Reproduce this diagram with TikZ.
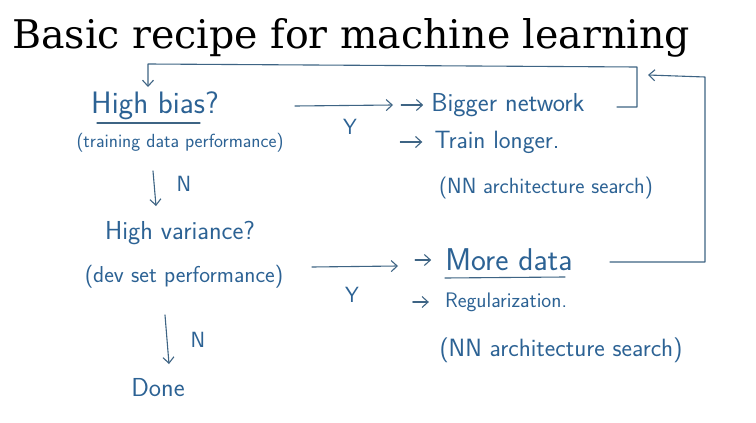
\documentclass[tikz,border=0pt]{standalone}
\usepackage{fontspec}
\usepackage{xcolor}
\usepackage{tikz}
\usetikzlibrary{arrows.meta}

\newfontfamily\titlefont{DejaVu Serif}
\definecolor{pen}{RGB}{44,98,148}
\definecolor{penline}{RGB}{62,100,132}

\tikzset{
	hand/.style={text=pen, font=\sffamily\fontsize{#1}{#1}\selectfont, inner sep=0pt},
	hand/.default=19,
	link/.style={draw=penline, line width=1.1pt, line cap=round, line join=round},
}

\begin{document}
\begin{tikzpicture}[x=1pt, y=-1pt, >={Straight Barb[length=6pt,width=11pt]}]
			\useasboundingbox[fill=white] (0,0) rectangle (756,423);
			\node[anchor=base west, inner sep=0pt, font=\titlefont\fontsize{39.5}{44}\selectfont] (title) at (12,48) {Basic recipe for machine learning};
			% left column
			\node[hand=31] (hb) at (155,106) {High bias?};
			\node[hand] (hbq) at (180,143) {(training data performance)};
			\node[hand=22] (n1) at (184,184) {N};
			\node[hand=26] (hv) at (180,233) {High variance?};
			\node[hand=23] (hvq) at (184,277) {(dev set performance)};
			\node[hand=22] (n2) at (198,340) {N};
			\node[hand=26] (done) at (158,388) {Done};
			% right column
			\node[hand=22] (y1) at (350,127) {Y};
			\node[hand=26] (bn) at (508,105) {Bigger network};
			\node[hand=25] (tl) at (497,142) {Train longer.};
			\node[hand=22] (ns1) at (546,188) {(NN architecture search)};
			\node[hand=22] (y2) at (352,295) {Y};
			\node[hand=31.5] (md) at (509,260) {More data};
			\node[hand=21] (rg) at (506,302) {Regularization.};
			\node[hand=25] (ns2) at (561,350) {(NN architecture search)};
			% arrows
			\coordinate (yb1) at (295,106);
			\coordinate (ye1) at (393,105);
			\coordinate (yb2) at (312,267);
			\coordinate (ye2) at (398,266);
			\draw[link,->] (yb1) -- (ye1);
			\draw[link,->] (yb2) -- (ye2);
			\draw[link,->] (153,171) -- (156,206);
			\draw[link,->] (165,315) -- (169,364);
			\draw[link,->] ([xshift=-30pt]bn.west) -- ([xshift=-8pt]bn.west);
			\draw[link,->] ([xshift=-34pt]tl.west) -- ([xshift=-12pt]tl.west);
			\draw[link,->] ([xshift=-30pt]md.west) -- ([xshift=-14pt]md.west);
			\draw[link,->] ([xshift=-32pt]rg.west) -- ([xshift=-16pt]rg.west);
			% underlines
			\draw[link] (97,123) -- (200,123);
			\draw[link] (445,278) -- (565,277);
			% loops
			\coordinate (lp1) at (617,107);
			\coordinate (lp2) at (610,262);
			\draw[link,->] (lp1) -- (637,107) -- (637,67) -- (148,64) -- (148,87);
			\draw[link,->] (lp2) -- (705,262) -- (705,77) -- (648,75);
\end{tikzpicture}
\end{document}
